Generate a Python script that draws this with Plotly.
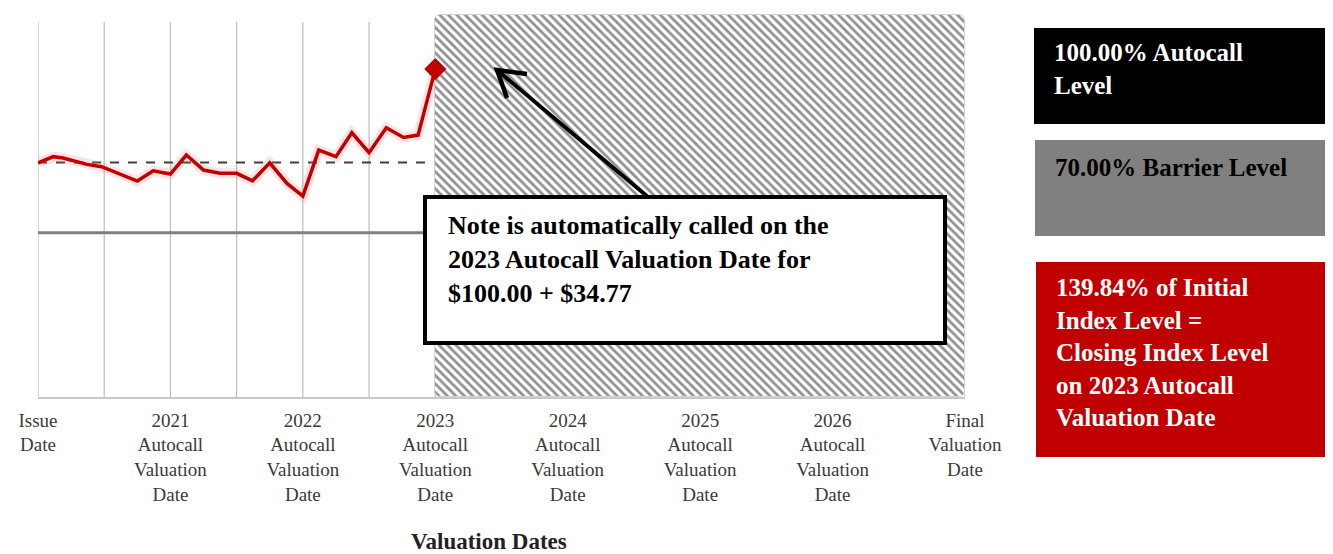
import plotly.graph_objects as go

# ---------------- data ----------------
tick_vals = [0, 1, 2, 3, 4, 5, 6, 7]
tick_labels = [
    "Issue<br>Date",
    "2021<br>Autocall<br>Valuation<br>Date",
    "2022<br>Autocall<br>Valuation<br>Date",
    "2023<br>Autocall<br>Valuation<br>Date",
    "2024<br>Autocall<br>Valuation<br>Date",
    "2025<br>Autocall<br>Valuation<br>Date",
    "2026<br>Autocall<br>Valuation<br>Date",
    "Final<br>Valuation<br>Date",
]
# index level as % of initial, time in years since issue
index_t = [0, 0.116, 0.19, 0.37, 0.48, 0.75, 0.87, 1.0, 1.12, 1.25, 1.375, 1.5,
           1.62, 1.75, 1.88, 2.0, 2.12, 2.25, 2.37, 2.5, 2.63, 2.76, 2.87, 3.0]
index_pct = [99.9, 102.5, 101.9, 99.2, 98.2, 92.1, 96.5, 95.1, 103.2, 96.8, 95.4, 95.4,
             92.2, 99.9, 91.1, 85.7, 105.3, 102.5, 112.7, 104.2, 114.8, 110.7, 111.7, 139.84]
autocall_level = 100.0
barrier_level = 70.0
call_t = 3        # 2023 autocall valuation date
final_t = 7
gridline_t = [0, 0.5, 1, 1.5, 2, 2.5, 3, 3.5, 4, 4.5, 5, 5.5, 6, 6.5, 7]

# ---------------- layout constants (page pixels) ----------------
W, H = 1333, 554
BODY = 8                      # default page body margin
PX_L, PX_R, PX_T, PX_B = 38, 965, 12, 397
X_MIN, X_MAX = 0, 7
Y_MIN, Y_MAX = 0, 164.2
RED = "#c00000"
SERIF = "Liberation Serif, Times New Roman, serif"


def dx(px):
    return X_MIN + (px - PX_L) / (PX_R - PX_L) * (X_MAX - X_MIN)


def dy(py):
    return Y_MIN + (PX_B - py) / (PX_B - PX_T) * (Y_MAX - Y_MIN)


def pxp(px):
    return (px - PX_L) / (PX_R - PX_L)


def pyp(py):
    return (PX_B - py) / (PX_B - PX_T)


fig = go.Figure()

# hatched post-call region
hatch_top = dy(15)
fig.add_trace(go.Bar(
    x=[(call_t + final_t) / 2], y=[hatch_top], width=[final_t - call_t], base=0,
    marker=dict(color="white", line=dict(color="#d4d4d4", width=1),
                pattern=dict(shape="\\", size=6, solidity=0.45,
                             fgcolor="#8f8f8f", bgcolor="white", fgopacity=1)),
    hoverinfo="skip", showlegend=False,
))

# glow under the index line
fig.add_trace(go.Scatter(
    x=index_t, y=index_pct, mode="lines",
    line=dict(color="rgba(255,110,110,0.20)", width=10),
    hoverinfo="skip", showlegend=False, cliponaxis=False,
))
fig.add_trace(go.Scatter(
    x=index_t, y=index_pct, mode="lines",
    line=dict(color=RED, width=3.5),
    showlegend=False, cliponaxis=False,
))
fig.add_trace(go.Scatter(
    x=[index_t[-1]], y=[index_pct[-1]], mode="markers",
    marker=dict(symbol="diamond", size=17, color=RED),
    showlegend=False, cliponaxis=False,
))

shapes = []
for g in gridline_t:
    shapes.append(dict(type="line", xref="x", yref="y", x0=g, x1=g, y0=0, y1=dy(22),
                       line=dict(color="#bdbdbd", width=1.2), layer="below"))
shapes.append(dict(type="line", xref="x", yref="y", x0=X_MIN, x1=X_MAX,
                   y0=autocall_level, y1=autocall_level,
                   line=dict(color="#3f3f3f", width=2, dash="dash"), layer="below"))
shapes.append(dict(type="line", xref="x", yref="y", x0=X_MIN, x1=X_MAX,
                   y0=barrier_level, y1=barrier_level,
                   line=dict(color="#7f7f7f", width=3), layer="below"))

# callout box
shapes.append(dict(type="rect", xref="paper", yref="paper",
                   x0=pxp(425), x1=pxp(945), y0=pyp(343), y1=pyp(197),
                   line=dict(color="black", width=4), fillcolor="white"))
# arrow shaft and open head
tip = (497, 70)
tail = (648, 197)
shapes.append(dict(type="line", xref="x", yref="y",
                   x0=dx(tail[0]), y0=dy(tail[1]), x1=dx(tip[0]), y1=dy(tip[1]),
                   line=dict(color="black", width=4)))
arm1 = (507, 98)
arm2 = (527, 74)
shapes.append(dict(type="path", xref="x", yref="y",
                   path=f"M {dx(arm1[0])},{dy(arm1[1])} L {dx(tip[0])},{dy(tip[1])} L {dx(arm2[0])},{dy(arm2[1])}",
                   line=dict(color="black", width=4.5)))

# legend boxes
boxes = [
    (1034, 1331, 28, 124, "black"),
    (1035, 1332, 140, 236, "#808080"),
    (1036, 1332, 262, 457, RED),
]
for x0, x1, y0, y1, c in boxes:
    shapes.append(dict(type="rect", xref="paper", yref="paper",
                       x0=pxp(x0), x1=pxp(x1), y0=pyp(y1), y1=pyp(y0),
                       line=dict(width=0), fillcolor=c))

annotations = [
    dict(xref="paper", yref="paper", x=pxp(446), y=pyp(259.5), xanchor="left", yanchor="middle",
         align="left", showarrow=False,
         text="<b>Note is automatically called on the<br>2023 Autocall Valuation Date for<br>$100.00 + $34.77</b>",
         font=dict(family=SERIF, size=26, color="black")),
    dict(xref="paper", yref="paper", x=pxp(1052), y=pyp(68.5), xanchor="left", yanchor="middle",
         align="left", showarrow=False,
         text="<b>100.00% Autocall<br>Level</b>",
         font=dict(family=SERIF, size=25, color="white")),
    dict(xref="paper", yref="paper", x=pxp(1053), y=pyp(167), xanchor="left", yanchor="middle",
         align="left", showarrow=False,
         text="<b>70.00% Barrier Level</b>",
         font=dict(family=SERIF, size=25, color="black")),
    dict(xref="paper", yref="paper", x=pxp(1054), y=pyp(352.5), xanchor="left", yanchor="middle",
         align="left", showarrow=False,
         text="<b>139.84% of Initial<br>Index Level =<br>Closing Index Level<br>on 2023 Autocall<br>Valuation Date</b>",
         font=dict(family=SERIF, size=25, color="white")),
    dict(xref="paper", yref="paper", x=pxp(489), y=pyp(541), xanchor="center", yanchor="middle",
         showarrow=False, text="<b>Valuation Dates</b>",
         font=dict(family=SERIF, size=23, color="#222222")),
]

fig.update_layout(
    width=W - BODY, height=H - BODY,
    margin=dict(l=PX_L - BODY, r=W - PX_R, t=PX_T - BODY, b=H - PX_B),
    paper_bgcolor="white", plot_bgcolor="white",
    showlegend=False, barcornerradius=6, bargap=0,
    shapes=shapes, annotations=annotations,
    xaxis=dict(range=[X_MIN, X_MAX], tickvals=tick_vals, ticktext=tick_labels,
               showgrid=False, zeroline=False, showline=True, linecolor="#c8c8c8",
               linewidth=1.5, ticks="", ticklabelstandoff=5,
               tickfont=dict(family=SERIF, size=19, color="#3a3a3a")),
    yaxis=dict(range=[Y_MIN, Y_MAX], showgrid=False, zeroline=False,
               showticklabels=False, showline=False),
)

fig.write_html("out.html")
